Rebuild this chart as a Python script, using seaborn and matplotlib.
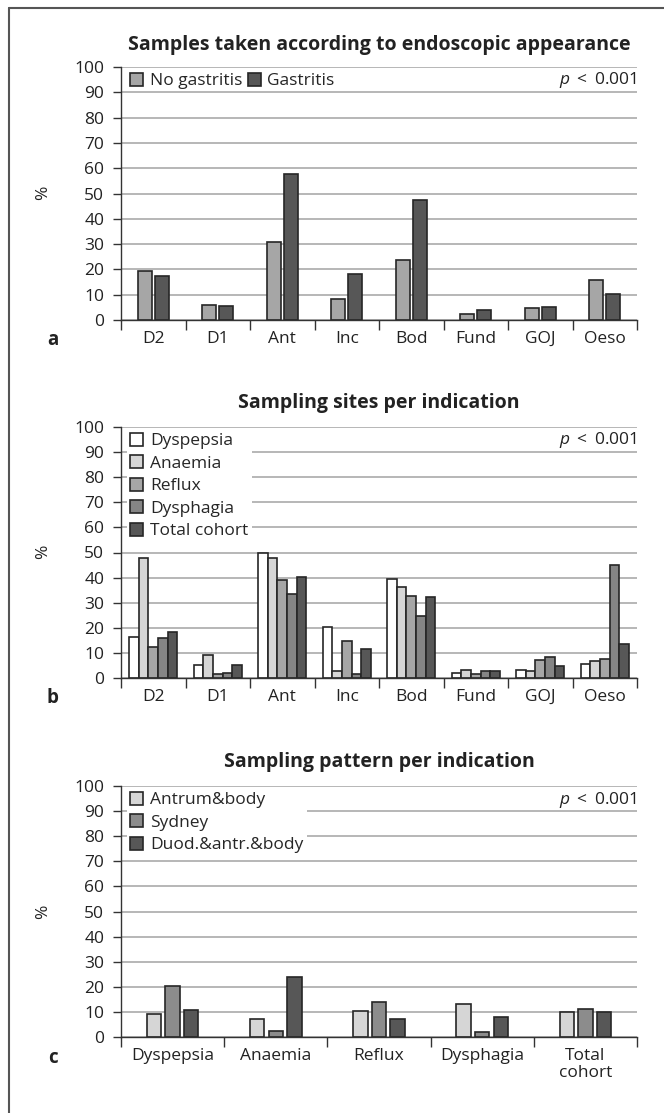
import numpy as np
import pandas as pd
import matplotlib
matplotlib.use("Agg")
import matplotlib.pyplot as plt
import seaborn as sns
from matplotlib.lines import Line2D

# ---------------- data ----------------
sites = ["D2", "D1", "Ant", "Inc", "Bod", "Fund", "GOJ", "Oeso"]
no_gastritis = [19.3, 5.8, 30.7, 8.2, 23.7, 2.5, 4.8, 15.9]
gastritis = [17.5, 5.4, 57.7, 18.1, 47.4, 4.0, 5.2, 10.3]

dyspepsia = [16.4, 5.2, 49.8, 20.4, 39.6, 2.1, 3.3, 5.6]
anaemia = [47.7, 9.1, 47.9, 2.6, 36.3, 3.2, 2.6, 6.6]
reflux = [12.2, 1.6, 39.1, 14.7, 32.5, 1.6, 7.0, 7.4]
dysphagia = [15.8, 1.9, 33.4, 1.7, 24.9, 2.9, 8.5, 45.0]
total_cohort = [18.5, 5.2, 40.3, 11.5, 32.2, 2.6, 4.6, 13.4]

indications = ["Dyspepsia", "Anaemia", "Reflux", "Dysphagia", "Total\ncohort"]
antrum_body = [9.1, 7.0, 10.5, 13.2, 9.8]
sydney = [20.4, 2.4, 14.0, 1.9, 11.1]
duod_antr_body = [10.9, 24.1, 7.0, 7.9, 9.8]

yticks = [0, 10, 20, 30, 40, 50, 60, 70, 80, 90, 100]

# ---------------- style ----------------
sns.set_theme(style="white")
plt.rcParams["font.family"] = ["Open Sans", "DejaVu Sans"]
plt.rcParams["mathtext.fontset"] = "custom"
plt.rcParams["mathtext.it"] = "Open Sans:italic"
plt.rcParams["mathtext.rm"] = "Open Sans"

W, H = 664, 1113
fig = plt.figure(figsize=(W / 100, H / 100), dpi=100)
fig.patch.set_facecolor("white")

EDGE = "#262626"
GRID = "#a3a3a3"
TXT = "#222222"
FS = 12.5
LEFT, RIGHT = 121, 637


def make_ax(top_px, bottom_px):
    return fig.add_axes([LEFT / W, 1 - bottom_px / H, (RIGHT - LEFT) / W,
                         (bottom_px - top_px) / H])


def style_ax(ax, ncat, labels, title, title_y, letter, label_y, ylab_y):
    ax.set_ylim(0, 100)
    ax.set_xlim(-0.5, ncat - 0.5)
    ax.set_yticks(yticks)
    ax.set_yticklabels([str(t) for t in yticks], fontsize=FS, color=TXT)
    ax.yaxis.grid(True, color=GRID, linewidth=1.1)
    ax.xaxis.grid(False)
    ax.set_axisbelow(True)
    for s in ["top", "right"]:
        ax.spines[s].set_visible(False)
    for s in ["left", "bottom"]:
        ax.spines[s].set_color("#333333")
        ax.spines[s].set_linewidth(1.0)
    ax.tick_params(axis="y", which="major", left=True, length=6, width=1.0,
                   color="#333333", pad=6)
    ax.set_xticks(range(ncat))
    ax.set_xticklabels(labels, fontsize=FS, color=TXT, linespacing=1.05)
    ax.tick_params(axis="x", which="major", bottom=False, length=0, pad=8)
    ax.set_xticks(np.arange(-0.5, ncat, 1.0), minor=True)
    ax.tick_params(axis="x", which="minor", bottom=True, length=7, width=1.0,
                   color="#333333")
    ax.set_xlabel("")
    ax.set_ylabel("")
    fig.text((LEFT + RIGHT) / 2 / W, 1 - title_y / H, title, ha="center",
             va="center", fontsize=14, fontweight="bold", color=TXT)
    fig.text(53 / W, 1 - label_y / H, letter, ha="center", va="center",
             fontsize=13.5, fontweight="bold", color=TXT)
    fig.text(43 / W, 1 - ylab_y / H, "%", ha="center", va="center",
             fontsize=FS, rotation=90, color=TXT)
    ax.text(1.0, 1 - 13.5 / ax.bbox.height, r"$p$ $<$ 0.001", transform=ax.transAxes,
            ha="right", va="center", fontsize=FS, color=TXT)


def add_legend(ax, names, colors, ncol, frame=True):
    handles = [plt.Rectangle((0, 0), 1, 1, facecolor=c, edgecolor=EDGE, linewidth=1.2)
               for c in colors]
    h = ax.bbox.height
    leg = ax.legend(handles, names, loc="upper left",
                    bbox_to_anchor=(5.5 / 516, 1 - 2.5 / h),
                    ncol=ncol, frameon=frame, framealpha=1, facecolor="white",
                    edgecolor="none", fontsize=FS, handlelength=0.75, handleheight=0.75,
                    handletextpad=0.4, labelspacing=0.35, columnspacing=0.3,
                    borderpad=0.2, borderaxespad=0.0, fancybox=False)
    if frame:
        leg.get_frame().set_linewidth(0)


# ---------------- panel a ----------------
ax1 = make_ax(67, 320)
df1 = pd.DataFrame({
    "site": sites * 2,
    "value": no_gastritis + gastritis,
    "group": ["No gastritis"] * len(sites) + ["Gastritis"] * len(sites),
})
col_a = ["#a6a6a6", "#575757"]
sns.barplot(data=df1, x="site", y="value", hue="group", order=sites,
            hue_order=["No gastritis", "Gastritis"], palette=col_a, width=0.54,
            gap=0.2, edgecolor=EDGE, linewidth=1.2, errorbar=None, ax=ax1, legend=False)
style_ax(ax1, len(sites), sites, "Samples taken according to endoscopic appearance",
         45, "a", 340, 193)
add_legend(ax1, ["No gastritis", "Gastritis"], col_a, 2, frame=False)

# ---------------- panel b ----------------
ax2 = make_ax(427, 678)
groups_b = ["Dyspepsia", "Anaemia", "Reflux", "Dysphagia", "Total cohort"]
vals_b = [dyspepsia, anaemia, reflux, dysphagia, total_cohort]
df2 = pd.DataFrame({
    "site": sites * len(groups_b),
    "value": sum(vals_b, []),
    "group": sum([[g] * len(sites) for g in groups_b], []),
})
col_b = ["#ffffff", "#d6d6d6", "#a6a6a6", "#858585", "#575757"]
sns.barplot(data=df2, x="site", y="value", hue="group", order=sites,
            hue_order=groups_b, palette=col_b, width=0.75, gap=0.0,
            edgecolor=EDGE, linewidth=1.2, errorbar=None, ax=ax2, legend=False)
style_ax(ax2, len(sites), sites, "Sampling sites per indication", 403, "b", 698, 552)
add_legend(ax2, groups_b, col_b, 1)

# ---------------- panel c ----------------
ax3 = make_ax(786, 1037)
groups_c = ["Antrum&body", "Sydney", "Duod.&antr.&body"]
vals_c = [antrum_body, sydney, duod_antr_body]
df3 = pd.DataFrame({
    "ind": indications * len(groups_c),
    "value": sum(vals_c, []),
    "group": sum([[g] * len(indications) for g in groups_c], []),
})
col_c = ["#d6d6d6", "#8c8c8c", "#575757"]
sns.barplot(data=df3, x="ind", y="value", hue="group", order=indications,
            hue_order=groups_c, palette=col_c, width=0.54, gap=0.22,
            edgecolor=EDGE, linewidth=1.2, errorbar=None, ax=ax3, legend=False)
style_ax(ax3, len(indications), indications, "Sampling pattern per indication",
         762, "c", 1058, 912)
add_legend(ax3, groups_c, col_c, 1)

# ---------------- outer frame ----------------
fig.add_artist(Line2D([9 / W, 9 / W], [0, 1 - 8 / H], transform=fig.transFigure,
                      color="#555555", linewidth=1.5))
fig.add_artist(Line2D([9 / W, 1], [1 - 8 / H, 1 - 8 / H], transform=fig.transFigure,
                      color="#555555", linewidth=1.5))

fig.savefig("out.png", dpi=100, facecolor="white")
